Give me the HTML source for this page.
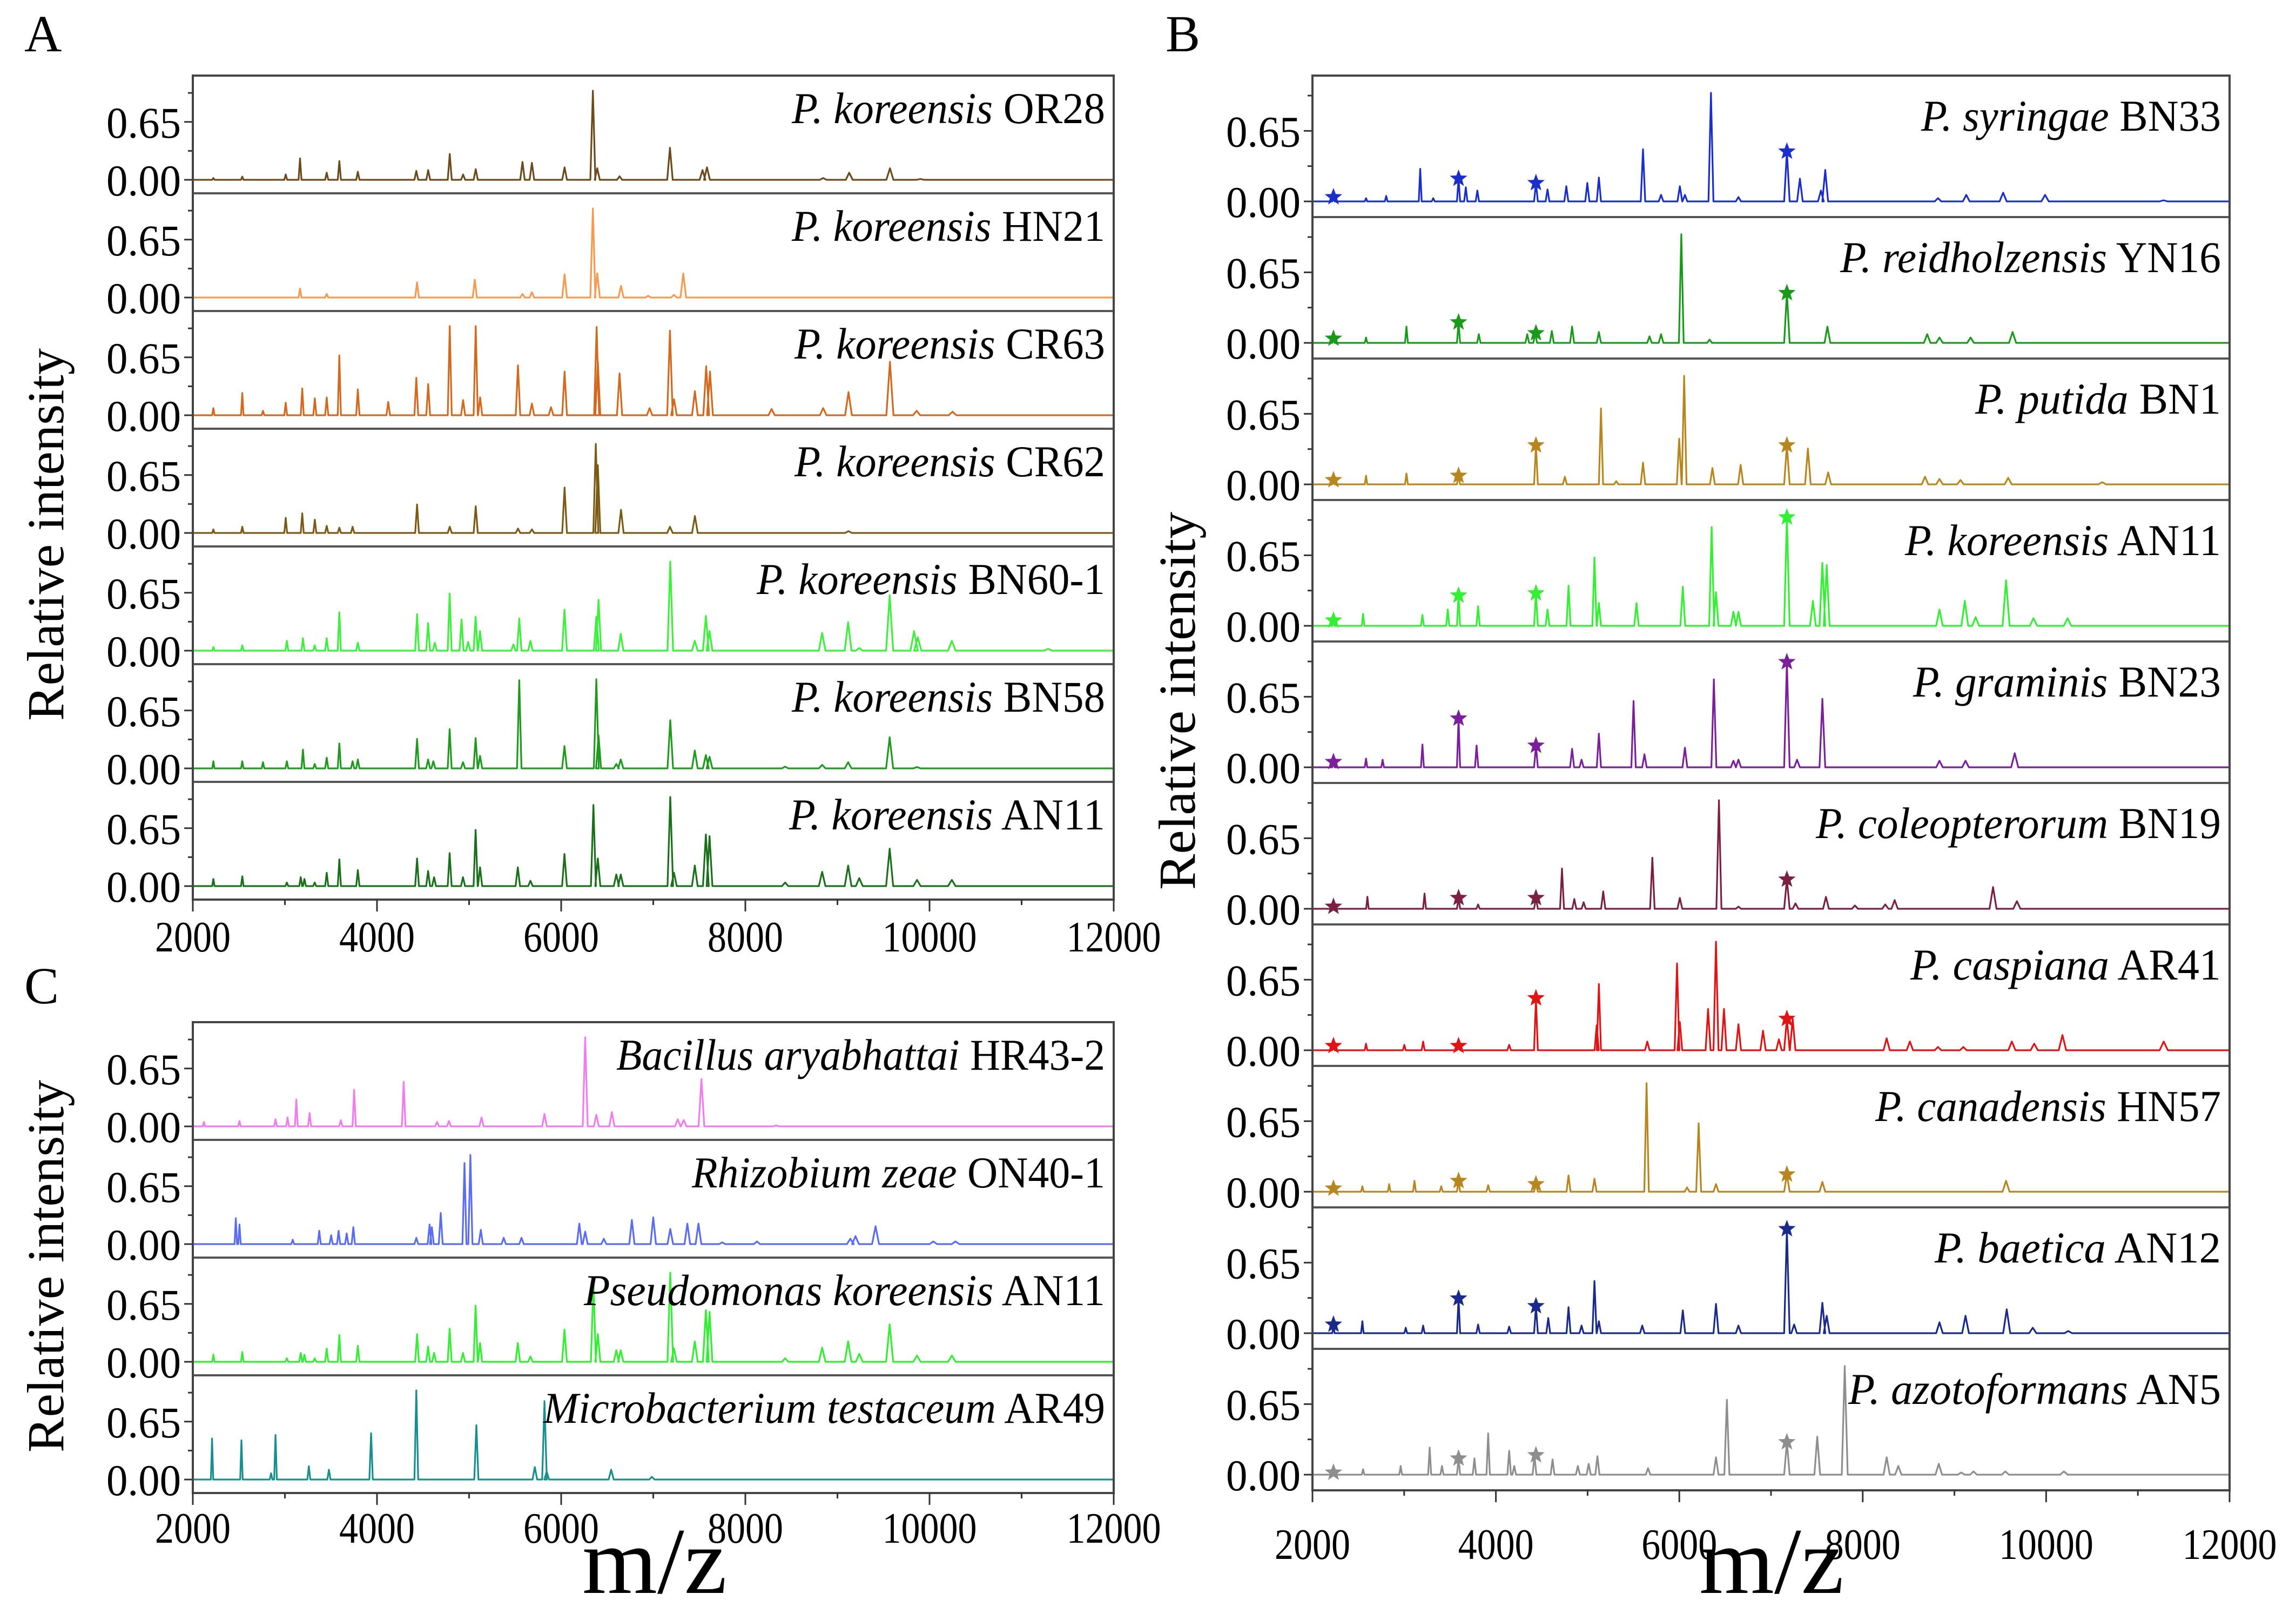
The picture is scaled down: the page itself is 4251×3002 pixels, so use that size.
<!DOCTYPE html>
<html><head><meta charset="utf-8"><title>MALDI-TOF spectra</title>
<style>
html,body{margin:0;padding:0;background:#fff;}
svg, svg text, svg tspan{font-family:"Liberation Serif","DejaVu Serif","Times New Roman",serif;}
</style></head>
<body>
<svg id="fig" xmlns="http://www.w3.org/2000/svg" width="4251" height="2997" viewBox="0 0 4251 2997">
<rect x="0" y="0" width="4251" height="2997" fill="#fff"/>
<text x="45" y="95" font-size="96">A</text>
<text x="2158" y="95" font-size="96">B</text>
<text x="45" y="1858" font-size="96">C</text>
<text transform="translate(117,990) rotate(-90)" text-anchor="middle" font-size="96" textLength="690" lengthAdjust="spacingAndGlyphs">Relative intensity</text>
<text transform="translate(117,2345) rotate(-90)" text-anchor="middle" font-size="96" textLength="690" lengthAdjust="spacingAndGlyphs">Relative intensity</text>
<text transform="translate(2212,1298) rotate(-90)" text-anchor="middle" font-size="96" textLength="700" lengthAdjust="spacingAndGlyphs">Relative intensity</text>
<text x="1212" y="2950" text-anchor="middle" font-size="175" textLength="268" lengthAdjust="spacingAndGlyphs">m/z</text>
<text x="3280" y="2950" text-anchor="middle" font-size="175" textLength="268" lengthAdjust="spacingAndGlyphs">m/z</text>
<g id="plots"></g>
</svg>
<script>
// ---------- data: x tick labels and y tick labels ----------
const xTickValues = [2000, 4000, 6000, 8000, 10000, 12000];
const xMinorValues = [3000, 5000, 7000, 9000, 11000];
const yTickValues = [0, 0.65];
const yTickLabels = ["0.00", "0.65"];
const yMinorValues = [0.325, 0.975];
const starMz = [2229, 3593, 4437, 7173];

// ---------- Panel A series ----------
const or28Mz  = [2223,2537,3009,3164,3454,3591,3792,4427,4556,4790,4935,5072,5580,5682,6037,6344,6392,6634,7181,7535,7583,8846,9128,9570,9900];
const or28Int = [0.02,0.035,0.06,0.24,0.08,0.21,0.09,0.10,0.11,0.29,0.06,0.12,0.20,0.19,0.14,1.0,0.13,0.04,0.36,0.11,0.14,0.02,0.08,0.13,0.01];
const hn21Mz  = [3164,3454,4435,5062,5580,5682,6037,6344,6392,6650,6944,7225,7326];
const hn21Int = [0.10,0.04,0.17,0.20,0.04,0.06,0.26,1.0,0.27,0.13,0.02,0.03,0.27];
const cr63Mz  = [2223,2537,2762,3009,3188,3325,3454,3591,3792,4122,4427,4556,4790,4935,5072,5120,5531,5682,5890,6037,6385,6398,6634,6960,7181,7225,7452,7575,7616,8285,8845,9120,9570,9860,10250];
const cr63Int = [0.08,0.25,0.05,0.14,0.30,0.19,0.20,0.67,0.29,0.15,0.42,0.35,1.0,0.17,1.0,0.20,0.56,0.13,0.09,0.49,0.99,0.60,0.47,0.08,0.95,0.18,0.27,0.55,0.49,0.07,0.08,0.26,0.60,0.05,0.04];
const cr62Mz  = [2223,2537,3009,3188,3325,3454,3591,3735,4435,4790,5072,5531,5682,6037,6376,6398,6650,7181,7452,9120];
const cr62Int = [0.04,0.07,0.17,0.22,0.15,0.08,0.06,0.07,0.32,0.07,0.30,0.05,0.04,0.51,1.0,0.76,0.26,0.07,0.19,0.02];
const bn601Mz  = [2223,2537,3021,3196,3324,3454,3591,3792,4435,4555,4628,4789,4918,4990,5071,5119,5481,5545,5666,6036,6382,6406,6647,7185,7451,7571,7611,8834,9116,9237,9567,9832,9872,10242,11288];
const bn601Int = [0.04,0.06,0.11,0.14,0.06,0.14,0.43,0.09,0.41,0.31,0.09,0.64,0.35,0.10,0.38,0.22,0.07,0.36,0.11,0.46,0.38,0.57,0.19,1.0,0.11,0.39,0.22,0.20,0.32,0.03,0.62,0.22,0.15,0.11,0.02];
const bn58Mz  = [2223,2537,2762,3021,3196,3324,3454,3591,3735,3792,4435,4555,4612,4789,4934,5071,5119,5545,6036,6382,6406,6599,6647,7185,7451,7571,7611,8432,8834,9116,9567,9864];
const bn58Int = [0.08,0.08,0.07,0.08,0.21,0.05,0.12,0.28,0.08,0.10,0.33,0.10,0.08,0.44,0.07,0.34,0.14,0.99,0.25,1.0,0.37,0.05,0.10,0.54,0.20,0.15,0.13,0.02,0.04,0.07,0.35,0.015];
const an11Mz  = [2223,2537,3021,3172,3212,3324,3454,3591,3792,4435,4555,4620,4789,4934,5071,5119,5529,5666,6036,6350,6398,6599,6647,7185,7225,7451,7571,7611,8432,8834,9116,9237,9567,9864,10242];
const an11Int = [0.08,0.11,0.04,0.10,0.08,0.04,0.15,0.30,0.18,0.31,0.17,0.10,0.37,0.10,0.63,0.21,0.21,0.06,0.36,0.91,0.31,0.13,0.13,1.0,0.15,0.23,0.58,0.56,0.04,0.16,0.23,0.09,0.42,0.07,0.07];

// ---------- Panel C series ----------
const bacMz  = [2120,2507,2898,3029,3124,3268,3607,3752,4290,4652,4781,5135,5819,6261,6382,6551,7266,7330,7523,8336];
const bacInt = [0.05,0.06,0.08,0.10,0.30,0.15,0.07,0.41,0.50,0.05,0.06,0.10,0.14,1.0,0.13,0.16,0.08,0.07,0.53,0.01];
const rhiMz  = [2467,2507,3085,3373,3502,3583,3671,3743,4427,4571,4596,4692,4950,5014,5127,5376,5569,6197,6261,6463,6768,7000,7185,7370,7491,7748,8126,9140,9196,9414,10041,10282];
const rhiInt = [0.29,0.22,0.05,0.15,0.10,0.15,0.12,0.19,0.07,0.22,0.19,0.35,0.91,1.0,0.16,0.07,0.07,0.23,0.14,0.06,0.27,0.30,0.17,0.23,0.23,0.02,0.03,0.06,0.09,0.20,0.03,0.03];
const micMz  = [2209,2528,2850,2898,3260,3478,3936,4427,5079,5714,5819,5843,6543,6985];
const micInt = [0.46,0.44,0.07,0.50,0.15,0.11,0.52,1.0,0.61,0.14,0.88,0.09,0.11,0.03];

// ---------- Panel B series ----------
const bn33Mz  = [2229,2584,2804,3175,3317,3593,3672,3798,4437,4563,4768,4997,5123,5604,5801,6006,6061,6345,6645,7173,7315,7544,7591,8821,9129,9531,9988,11280];
const bn33Int = [0.04,0.03,0.05,0.30,0.03,0.21,0.13,0.10,0.17,0.11,0.14,0.17,0.22,0.48,0.06,0.14,0.06,1.0,0.04,0.46,0.21,0.10,0.29,0.03,0.06,0.08,0.06,0.01];
const bn33Star = [0.04,0.21,0.17,0.46];
const yn16Mz  = [2229,2584,3025,3593,3814,4342,4429,4610,4831,5123,5675,5801,6022,6330,7173,7615,8703,8837,9176,9634];
const yn16Int = [0.04,0.05,0.15,0.19,0.08,0.08,0.09,0.11,0.15,0.10,0.06,0.08,1.0,0.03,0.46,0.15,0.08,0.05,0.05,0.10];
const yn16Star = [0.04,0.19,0.09,0.46];
const bn1Mz  = [2229,2584,3025,3593,4437,4752,5146,5312,5604,5999,6053,6361,6669,7173,7402,7623,8679,8837,9066,9586,10612];
const bn1Int = [0.04,0.08,0.10,0.08,0.36,0.07,0.70,0.03,0.20,0.42,1.0,0.15,0.18,0.36,0.33,0.11,0.07,0.05,0.04,0.06,0.02];
const bn1Star = [0.04,0.08,0.36,0.36];
const an11bMz  = [2229,2552,3199,3475,3593,3806,4437,4563,4792,5075,5123,5533,6038,6353,6400,6590,6645,7173,7457,7560,7607,8837,9113,9231,9563,9862,10233];
const an11bInt = [0.05,0.11,0.10,0.15,0.28,0.18,0.30,0.15,0.37,0.63,0.21,0.21,0.36,0.91,0.31,0.13,0.13,1.0,0.23,0.58,0.56,0.15,0.23,0.08,0.42,0.07,0.07];
const an11bStar = [0.05,0.28,0.30,1.0];
const bn23Mz  = [2229,2584,2765,3199,3593,3790,4437,4831,4934,5123,5501,5620,6061,6377,6590,6645,7173,7284,7560,8837,9121,9657];
const bn23Int = [0.05,0.08,0.07,0.21,0.45,0.20,0.20,0.17,0.07,0.31,0.61,0.12,0.18,0.81,0.06,0.07,0.97,0.07,0.63,0.06,0.06,0.13];
const bn23Star = [0.05,0.45,0.20,0.97];
const bn19Mz  = [2229,2599,3222,3593,3806,4437,4721,4855,4957,5170,5706,6006,6432,6645,7173,7267,7599,7915,8246,8348,9421,9681];
const bn19Int = [0.02,0.11,0.14,0.10,0.04,0.10,0.37,0.09,0.06,0.16,0.47,0.10,1.0,0.02,0.27,0.05,0.11,0.03,0.04,0.08,0.20,0.07];
const bn19Star = [0.02,0.10,0.10,0.27];
const ar41Mz  = [2229,2584,3002,3207,3593,4145,4437,5099,5123,5651,5975,6006,6314,6400,6487,6645,6913,7086,7173,7236,8261,8514,8821,9097,9626,9870,10178,11282];
const ar41Int = [0.04,0.06,0.05,0.08,0.04,0.05,0.48,0.23,0.61,0.08,0.80,0.26,0.38,1.0,0.38,0.24,0.18,0.10,0.29,0.29,0.11,0.08,0.03,0.03,0.08,0.06,0.14,0.08];
const ar41Star = [0.04,0.04,0.48,0.29];
const hn57Mz  = [2229,2544,2836,3112,3404,3593,3916,4437,4792,5075,5643,6085,6211,6400,7173,7560,9563];
const hn57Int = [0.03,0.05,0.07,0.10,0.05,0.10,0.06,0.07,0.15,0.12,1.0,0.04,0.63,0.07,0.16,0.09,0.10];
const hn57Star = [0.03,0.10,0.07,0.16];
const an12Mz  = [2229,2544,3017,3207,3593,3806,4145,4437,4571,4792,4934,5075,5123,5596,6038,6400,6645,7173,7252,7560,7607,8837,9121,9570,9854,10241];
const an12Int = [0.08,0.11,0.05,0.07,0.32,0.08,0.06,0.25,0.14,0.24,0.07,0.48,0.11,0.07,0.21,0.27,0.07,0.96,0.08,0.28,0.16,0.10,0.16,0.22,0.05,0.02];
const an12Star = [0.08,0.32,0.25,0.96];
const an5Mz  = [2229,2552,2962,3278,3412,3593,3766,3916,4145,4200,4421,4618,4894,5012,5107,5659,6400,6519,7173,7504,7804,8261,8388,8829,9074,9208,9555,10194];
const an5Int = [0.02,0.05,0.08,0.25,0.08,0.15,0.15,0.38,0.22,0.08,0.18,0.14,0.08,0.10,0.17,0.06,0.16,0.69,0.30,0.35,1.0,0.16,0.08,0.10,0.02,0.03,0.03,0.03];
const an5Star = [0.02,0.15,0.18,0.30];

// ---------- layout ----------
const NS = "http://www.w3.org/2000/svg";
const root = document.getElementById("plots");
function mk(tag, attrs, parent) {
  const e = document.createElementNS(NS, tag);
  for (const k in attrs) e.setAttribute(k, attrs[k]);
  (parent || root).appendChild(e);
  return e;
}
const panels = [
  { key: "a", x0: 357, x1: 2062, top: 140, h: 218, base: 193, unit: 165, fs: 82, labY: 88, tickLab: 1762, series: [
    { mz: or28Mz, it: or28Int, c: "#6b4a1c", sp: "P. koreensis", st: " OR28", w: 580, name: "spectrum-or28" },
    { mz: hn21Mz, it: hn21Int, c: "#f59a4f", sp: "P. koreensis", st: " HN21", w: 580, name: "spectrum-hn21" },
    { mz: cr63Mz, it: cr63Int, c: "#d2691e", sp: "P. koreensis", st: " CR63", w: 575, name: "spectrum-cr63" },
    { mz: cr62Mz, it: cr62Int, c: "#7a5a14", sp: "P. koreensis", st: " CR62", w: 575, name: "spectrum-cr62" },
    { mz: bn601Mz, it: bn601Int, c: "#3cf03c", sp: "P. koreensis", st: " BN60-1", w: 645, name: "spectrum-bn60-1" },
    { mz: bn58Mz, it: bn58Int, c: "#1f9a1f", sp: "P. koreensis", st: " BN58", w: 580, name: "spectrum-bn58" },
    { mz: an11Mz, it: an11Int, c: "#1a701a", sp: "P. koreensis", st: " AN11", w: 585, name: "spectrum-an11-a" } ] },
  { key: "c", x0: 357, x1: 2062, top: 1893, h: 218, base: 193, unit: 165, fs: 82, labY: 88, tickLab: 2857, series: [
    { mz: bacMz, it: bacInt, c: "#f07cf0", sp: "Bacillus aryabhattai", st: " HR43-2", w: 905, name: "spectrum-bacillus" },
    { mz: rhiMz, it: rhiInt, c: "#5a6cf0", sp: "Rhizobium zeae", st: " ON40-1", w: 765, name: "spectrum-rhizobium" },
    { mz: an11Mz, it: an11Int, c: "#33ee33", sp: "Pseudomonas koreensis", st: " AN11", w: 965, name: "spectrum-pseudomonas-an11" },
    { mz: micMz, it: micInt, c: "#178f8f", sp: "Microbacterium testaceum", st: " AR49", w: 1040, name: "spectrum-microbacterium" } ] },
  { key: "b", x0: 2430, x1: 4128, top: 140, h: 262, base: 233, unit: 201, fs: 82, labY: 102, tickLab: 2887, series: [
    { mz: bn33Mz, it: bn33Int, st2: bn33Star, c: "#1a2ecc", sp: "P. syringae", st: " BN33", w: 555, name: "spectrum-bn33" },
    { mz: yn16Mz, it: yn16Int, st2: yn16Star, c: "#1a9a1a", sp: "P. reidholzensis", st: " YN16", w: 705, name: "spectrum-yn16" },
    { mz: bn1Mz, it: bn1Int, st2: bn1Star, c: "#b8861e", sp: "P. putida", st: " BN1", w: 455, name: "spectrum-bn1" },
    { mz: an11bMz, it: an11bInt, st2: an11bStar, c: "#33f033", sp: "P. koreensis", st: " AN11", w: 585, name: "spectrum-an11-b" },
    { mz: bn23Mz, it: bn23Int, st2: bn23Star, c: "#7b1f9a", sp: "P. graminis", st: " BN23", w: 570, name: "spectrum-bn23" },
    { mz: bn19Mz, it: bn19Int, st2: bn19Star, c: "#7a2040", sp: "P. coleopterorum", st: " BN19", w: 750, name: "spectrum-bn19" },
    { mz: ar41Mz, it: ar41Int, st2: ar41Star, c: "#e01414", sp: "P. caspiana", st: " AR41", w: 575, name: "spectrum-ar41" },
    { mz: hn57Mz, it: hn57Int, st2: hn57Star, c: "#b8861e", sp: "P. canadensis", st: " HN57", w: 640, name: "spectrum-hn57" },
    { mz: an12Mz, it: an12Int, st2: an12Star, c: "#1a2a8a", sp: "P. baetica", st: " AN12", w: 530, name: "spectrum-an12" },
    { mz: an5Mz, it: an5Int, st2: an5Star, c: "#8e8e8e", sp: "P. azotoformans", st: " AN5", w: 690, name: "spectrum-an5" } ] }
];

function starPath(cx, cy, r) {
  let d = "";
  for (let i = 0; i < 10; i++) {
    const rr = i % 2 === 0 ? r : r * 0.42;
    const a = -Math.PI / 2 + i * Math.PI / 5;
    d += (i === 0 ? "M" : "L") + (cx + rr * Math.cos(a)).toFixed(1) + "," + (cy + rr * Math.sin(a)).toFixed(1);
  }
  return d + "Z";
}

panels.forEach(p => {
  const g = mk("g", {});
  
  
  const xs = mz => p.x0 + (mz - 2000) / 10000 * (p.x1 - p.x0);
  const n = p.series.length;
  const bottom = p.top + n * p.h;
  p.series.forEach((s, i) => {
    const t = p.top + i * p.h;
    const by = t + p.base;
    const ys = v => by - v * p.unit;
    const sg = mk("g", {}, g);
    
    
    yTickValues.forEach((v, k) => {
      const tk = mk("line", { x1: p.x0 - 16, x2: p.x0, y1: ys(v), y2: ys(v), stroke: "#333", "stroke-width": 3 }, sg);
      
      
      const tl = mk("text", { x: p.x0 - 22, y: ys(v) + 29, "text-anchor": "end", "font-size": p.fs, textLength: 138, lengthAdjust: "spacingAndGlyphs" }, sg);
      tl.textContent = yTickLabels[k];
      
      
    });
    yMinorValues.forEach(v => {
      const tk = mk("line", { x1: p.x0 - 9, x2: p.x0, y1: ys(v), y2: ys(v), stroke: "#333", "stroke-width": 3 }, sg);
      
      
    });
    const idx = s.mz.map((m, k) => k).sort((a, b) => s.mz[a] - s.mz[b]);
    let d = "M" + p.x0 + "," + by;
    idx.forEach(k => {
      const x = xs(s.mz[k]);
      const w = 2 + (s.mz[k] - 2000) * 0.0006;
      d += " L" + (x - w).toFixed(1) + "," + by + " L" + x.toFixed(1) + "," + ys(s.it[k]).toFixed(1) + " L" + (x + w).toFixed(1) + "," + by;
    });
    d += " L" + p.x1 + "," + by;
    const path = mk("path", { d: d, fill: "none", stroke: s.c, "stroke-width": 3.2, "stroke-linejoin": "round" }, sg);
    
    
    if (s.st2) {
      s.st2.forEach((v, k) => {
        const sp = mk("path", { d: starPath(xs(starMz[k]), ys(v), 17), fill: s.c }, sg);
        
        
      });
    }
    const lb = mk("text", { x: p.x1 - 16, y: t + p.labY, "text-anchor": "end", "font-size": p.fs, textLength: s.w, lengthAdjust: "spacingAndGlyphs" }, sg);
    
    
    const ti = mk("tspan", { "font-style": "italic" }, lb);
    ti.textContent = s.sp;
    const tn = mk("tspan", {}, lb);
    tn.textContent = s.st;
    if (i > 0) {
      const sl = mk("line", { x1: p.x0, x2: p.x1, y1: t, y2: t, stroke: "#555", "stroke-width": 4 }, g);
      
      
    }
  });
  const box = mk("rect", { x: p.x0, y: p.top, width: p.x1 - p.x0, height: n * p.h, fill: "none", stroke: "#444", "stroke-width": 4 }, g);
  
  
  xTickValues.forEach(v => {
    const tk = mk("line", { x1: xs(v), x2: xs(v), y1: bottom, y2: bottom + 22, stroke: "#333", "stroke-width": 3 }, g);
    
    
    const tl = mk("text", { x: xs(v), y: p.tickLab, "text-anchor": "middle", "font-size": 80, textLength: String(v).length * 35, lengthAdjust: "spacingAndGlyphs" }, g);
    tl.textContent = String(v);
    
    
  });
  xMinorValues.forEach(v => {
    const tk = mk("line", { x1: xs(v), x2: xs(v), y1: bottom, y2: bottom + 10, stroke: "#333", "stroke-width": 3 }, g);
    
    
  });
});
</script>
</body></html>
